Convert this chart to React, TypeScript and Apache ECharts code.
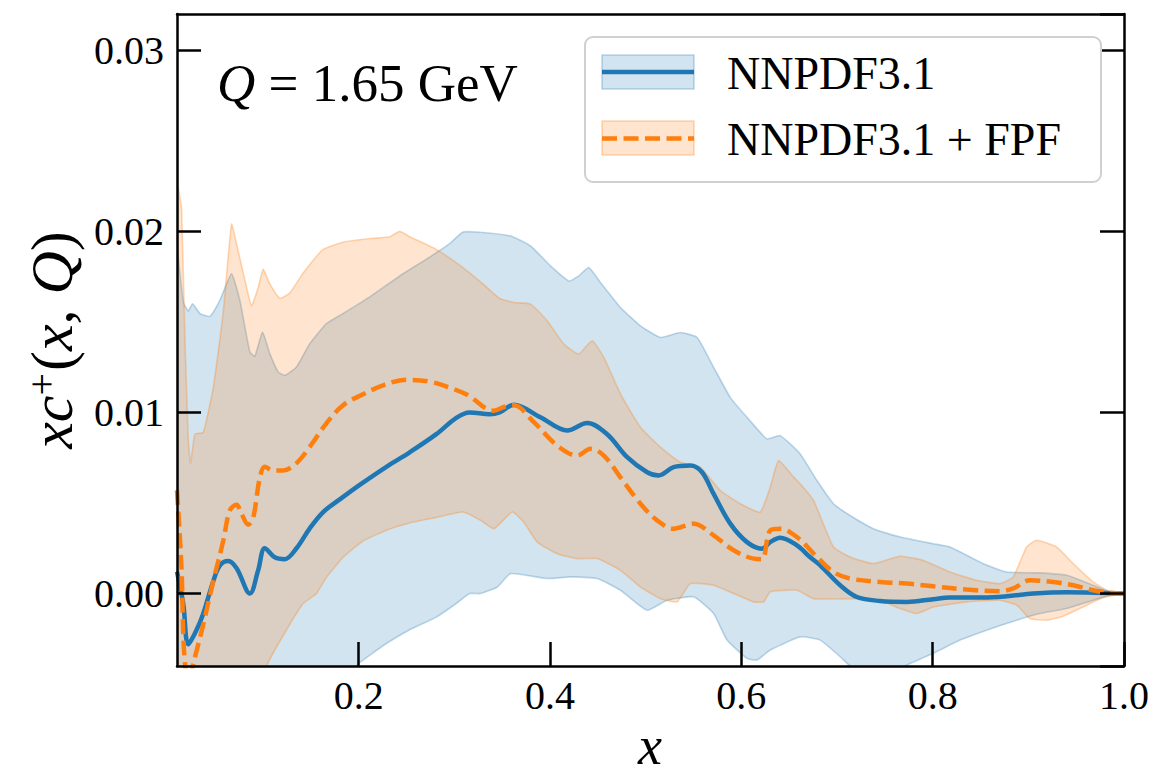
import React, { useEffect, useRef } from "react";
import * as echarts from "echarts";

// ---- axis ranges & ticks ----
const X_MIN = 0.01;
const X_MAX = 1.0;
const Y_MIN = -0.004;
const Y_MAX = 0.032;

// ---- labels ----
const seriesNames = ["NNPDF3.1", "NNPDF3.1 + FPF"];

// ---- NNPDF3.1 central value ----
const nnpdfCentral: [number, number][] = [
  [0.01, 0.0012], [0.0166, -0.0006], [0.0218, -0.0028], [0.0305, -0.002], [0.0375, -0.0011],
  [0.048, 0.0007], [0.0549, 0.00156], [0.0636, 0.0018], [0.0723, 0.0014], [0.0862, 0.0],
  [0.0949, 0.0013], [0.1018, 0.0025], [0.1123, 0.002], [0.1227, 0.0019], [0.1349, 0.0025],
  [0.1488, 0.0036], [0.1628, 0.0045], [0.1802, 0.0052], [0.201, 0.006], [0.2289, 0.007],
  [0.2533, 0.0078], [0.2811, 0.0088], [0.302, 0.0097], [0.3159, 0.01], [0.3368, 0.0099],
  [0.3472, 0.01], [0.3622, 0.01043], [0.39, 0.00973], [0.418, 0.009], [0.4388, 0.00942],
  [0.4597, 0.0088], [0.4806, 0.00753], [0.5015, 0.0067], [0.5136, 0.00652], [0.5292, 0.00698],
  [0.5467, 0.00707], [0.5589, 0.0067], [0.571, 0.0055], [0.5884, 0.00386], [0.6059, 0.00284],
  [0.6215, 0.00248], [0.6302, 0.00284], [0.6406, 0.00308], [0.6581, 0.00266], [0.672, 0.002],
  [0.6824, 0.00156], [0.7033, 0.00046], [0.7207, -0.00019], [0.745, -0.00041], [0.7729, -0.00046],
  [0.8007, -0.00031], [0.8181, -0.00022], [0.8529, -0.00022], [0.8773, -0.00015], [0.9051, 0.0],
  [0.94, 0.00007], [0.9678, 0.00005], [1.0, 0.0],
];

// ---- NNPDF3.1 + FPF central value ----
const fpfCentral: [number, number][] = [
  [0.01, 0.0057], [0.0148, 0.0013], [0.0173, -0.0031], [0.022, -0.0048], [0.0288, -0.0035],
  [0.0375, -0.0017], [0.048, 0.0007], [0.0583, 0.0029], [0.0653, 0.0046], [0.0723, 0.0049],
  [0.0775, 0.0044], [0.0844, 0.0038], [0.0897, 0.0042], [0.0966, 0.0064], [0.1018, 0.007],
  [0.1105, 0.0068], [0.121, 0.0068], [0.1349, 0.0072], [0.1488, 0.0081], [0.1662, 0.0094],
  [0.1836, 0.0104], [0.2045, 0.011], [0.2254, 0.0115], [0.2498, 0.0118], [0.2741, 0.0117],
  [0.2985, 0.0113], [0.3159, 0.0109], [0.3333, 0.0102], [0.3413, 0.0101], [0.3517, 0.0103],
  [0.3622, 0.0104], [0.3831, 0.00946], [0.4075, 0.00817], [0.4284, 0.00762], [0.4423, 0.00799],
  [0.4562, 0.00762], [0.4736, 0.00642], [0.4945, 0.00496], [0.5119, 0.00404], [0.5292, 0.00358],
  [0.5501, 0.00386], [0.571, 0.00321], [0.5919, 0.00239], [0.6128, 0.00193], [0.6215, 0.0019],
  [0.6302, 0.00349], [0.6406, 0.00358], [0.6581, 0.00312], [0.679, 0.00202], [0.6963, 0.00119],
  [0.7137, 0.00083], [0.745, 0.00064], [0.7729, 0.00055], [0.8007, 0.0004], [0.8356, 0.00022],
  [0.8703, 0.00013], [0.8842, 0.00028], [0.9017, 0.00073], [0.926, 0.00064], [0.9469, 0.00046],
  [0.9678, 0.00018], [0.9852, 0.00004], [1.0, 0.0],
];

// ---- NNPDF3.1 uncertainty band ----
const nnpdfUpper: [number, number][] = [
  [0.01, 0.019], [0.0166, 0.0161], [0.0218, 0.0156], [0.0263, 0.016], [0.034, 0.01546],
  [0.0444, 0.0153], [0.0549, 0.0162], [0.067, 0.01766], [0.0757, 0.0162], [0.0862, 0.01334],
  [0.0914, 0.0131], [0.0994, 0.01444], [0.107, 0.01325], [0.1158, 0.01224], [0.1227, 0.01205],
  [0.1349, 0.01251], [0.1488, 0.0138], [0.1662, 0.0149], [0.1836, 0.01546], [0.2115, 0.01638],
  [0.2463, 0.01766], [0.2741, 0.01858], [0.295, 0.01932], [0.3089, 0.01996], [0.3229, 0.01996],
  [0.3587, 0.01974], [0.3796, 0.01919], [0.4005, 0.01809], [0.4196, 0.01726], [0.43, 0.01754],
  [0.4405, 0.018], [0.4527, 0.01717], [0.4736, 0.01579], [0.4945, 0.01478], [0.5154, 0.01414],
  [0.5362, 0.01441], [0.5537, 0.01414], [0.571, 0.01249], [0.5884, 0.01083], [0.6059, 0.00973],
  [0.6267, 0.00854], [0.6406, 0.00872], [0.6615, 0.00771], [0.679, 0.00624], [0.6963, 0.00496],
  [0.7137, 0.00431], [0.738, 0.00358], [0.7659, 0.00312], [0.8007, 0.00275], [0.8181, 0.00257],
  [0.8529, 0.00165], [0.8773, 0.00119], [0.9121, 0.00114], [0.94, 0.00101], [0.9678, 0.00046],
  [0.9852, 0.00009], [1.0, 0.0],
];
const nnpdfLower: [number, number][] = [
  [0.01, -0.014], [0.05, -0.012], [0.1, -0.009], [0.15, -0.0062], [0.19, -0.0045],
  [0.2, -0.00386], [0.2289, -0.00276], [0.2533, -0.002], [0.2811, -0.0013], [0.302, -0.00055],
  [0.3159, 0.0], [0.3274, 0.0], [0.3449, 0.00036], [0.3587, 0.0011], [0.397, 0.00083],
  [0.4214, 0.00092], [0.4493, 0.00083], [0.4736, 0.00018], [0.5015, -0.00092], [0.5223, -0.00037],
  [0.5501, -0.00018], [0.571, -0.0011], [0.585, -0.00257], [0.6059, -0.00358], [0.6163, -0.00367],
  [0.6302, -0.00312], [0.6615, -0.00239], [0.6824, -0.00257], [0.7033, -0.00349], [0.7137, -0.004],
  [0.745, -0.0046], [0.7763, -0.00386], [0.8007, -0.0033], [0.8286, -0.00257], [0.8564, -0.00202],
  [0.8878, -0.00147], [0.9121, -0.0011], [0.94, -0.00083], [0.9678, -0.00037], [0.9852, -0.0001],
  [1.0, 0.0],
];

// ---- NNPDF3.1 + FPF uncertainty band ----
const fpfUpper: [number, number][] = [
  [0.01, 0.0226], [0.0113, 0.0224], [0.0148, 0.0212], [0.0183, 0.014], [0.0218, 0.0085],
  [0.0242, 0.0072], [0.0288, 0.0088], [0.0375, 0.0089], [0.048, 0.0114], [0.0583, 0.0155],
  [0.067, 0.0204], [0.0723, 0.0193], [0.081, 0.0173], [0.0879, 0.0159], [0.0949, 0.0169],
  [0.1001, 0.0179], [0.107, 0.0171], [0.1175, 0.0163], [0.128, 0.0166], [0.1419, 0.0177],
  [0.1628, 0.019], [0.1836, 0.0194], [0.2115, 0.0196], [0.2324, 0.0197], [0.2428, 0.02],
  [0.2533, 0.0197], [0.2811, 0.019], [0.3089, 0.018], [0.3298, 0.0171], [0.3472, 0.0163],
  [0.3622, 0.01607], [0.3796, 0.01598], [0.397, 0.01506], [0.4144, 0.01377], [0.43, 0.01322],
  [0.444, 0.01396], [0.4562, 0.01304], [0.4736, 0.01102], [0.4945, 0.00918], [0.5154, 0.00808],
  [0.5362, 0.00725], [0.5571, 0.00698], [0.578, 0.00569], [0.5989, 0.00496], [0.6197, 0.0045],
  [0.6302, 0.00587], [0.6389, 0.00734], [0.6545, 0.00643], [0.6615, 0.00606], [0.6754, 0.00514],
  [0.6963, 0.00257], [0.7137, 0.00202], [0.738, 0.00165], [0.7659, 0.00206], [0.7903, 0.00183],
  [0.8181, 0.00119], [0.846, 0.00073], [0.8703, 0.00055], [0.8842, 0.00092], [0.8982, 0.00257],
  [0.9086, 0.00294], [0.9295, 0.00257], [0.9469, 0.00165], [0.9678, 0.00064], [0.9852, 0.0001],
  [1.0, 0.0],
];
const fpfLower: [number, number][] = [
  [0.01, -0.018], [0.05, -0.014], [0.09, -0.0065], [0.1036, -0.004], [0.1245, -0.002],
  [0.1419, -0.00055], [0.1558, 0.0], [0.1662, 0.0009], [0.1836, 0.002], [0.2045, 0.0029],
  [0.2289, 0.0035], [0.2533, 0.0039], [0.2811, 0.0042], [0.3089, 0.0045], [0.3274, 0.00404],
  [0.3413, 0.00358], [0.3605, 0.0045], [0.3726, 0.00394], [0.3866, 0.00284], [0.4075, 0.0022],
  [0.4284, 0.00193], [0.4493, 0.00193], [0.4736, 0.00128], [0.4945, 0.00036], [0.5154, -0.00028],
  [0.5328, -0.00046], [0.5467, 0.00055], [0.571, 0.00046], [0.5919, 0.0], [0.6128, -0.00046],
  [0.6232, -0.00046], [0.6302, 0.0001], [0.6581, 0.00018], [0.6754, -0.00028], [0.6963, -0.0003],
  [0.7172, -0.00028], [0.745, -0.00037], [0.7659, -0.00083], [0.7833, -0.0011], [0.8007, -0.00074],
  [0.8356, -0.00046], [0.8703, -0.00037], [0.8878, -0.00064], [0.9017, -0.00138], [0.919, -0.00147],
  [0.9364, -0.00125], [0.9573, -0.00074], [0.9782, -0.00022], [1.0, 0.0],
];

const BLUE = "#1f77b4";
const ORANGE = "#ff7f0e";
const BLUE_FILL = "rgba(31,119,180,0.2)";
const BLUE_EDGE = "rgba(31,119,180,0.28)";
const ORANGE_FILL = "rgba(255,127,14,0.2)";
const ORANGE_EDGE = "rgba(255,127,14,0.3)";
const FONT = "'Liberation Serif', 'Times New Roman', serif";

function bandSeries(upper: [number, number][], lower: [number, number][], fill: string, edge: string, z: number) {
  const poly = upper.concat(lower.slice().reverse());
  return {
    type: "custom",
    xAxisIndex: 0,
    yAxisIndex: 0,
    clip: true,
    z,
    silent: true,
    data: poly,
    encode: { x: 0, y: 1 },
    renderItem: (params: any, api: any) => {
      if (params.dataIndex !== 0) return null;
      const points = poly.map((p) => api.coord(p));
      return {
        type: "polygon",
        shape: { points, smooth: 0.15 },
        style: { fill, stroke: edge, lineWidth: 1.6 },
      };
    },
  };
}

export default function App() {
  const ref = useRef<HTMLDivElement>(null);
  useEffect(() => {
    document.body.style.margin = "0";
    if (!ref.current) return;
    const chart = echarts.init(ref.current, undefined, { renderer: "svg" });
    const axisLine = { show: true, onZero: false, lineStyle: { color: "#000", width: 2.5 } };
    const tick = { show: true, inside: true, length: 24, lineStyle: { color: "#000", width: 2.5 } };
    const option: any = {
      animation: false,
      backgroundColor: "#fff",
      grid: { left: 177, right: 50, top: 14, bottom: 111 },
      xAxis: [
        {
          type: "value",
          min: X_MIN,
          max: X_MAX,
          position: "bottom",
          z: 10,
          axisLine,
          axisTick: tick,
          splitLine: { show: false },
          axisLabel: {
            showMinLabel: false,
            color: "#000",
            fontFamily: FONT,
            fontSize: 40,
            margin: 9,
            formatter: (v: number) => v.toFixed(1),
          },
        },
        {
          type: "value",
          min: X_MIN,
          max: X_MAX,
          position: "top",
          z: 10,
          axisLine,
          axisTick: { show: false },
          axisLabel: { show: false },
          splitLine: { show: false },
        },
      ],
      yAxis: [
        {
          type: "value",
          min: Y_MIN,
          max: Y_MAX,
          position: "left",
          z: 10,
          axisLine,
          axisTick: tick,
          splitLine: { show: false },
          axisLabel: {
            showMinLabel: false,
            showMaxLabel: false,
            color: "#000",
            fontFamily: FONT,
            fontSize: 40,
            margin: 13,
            formatter: (v: number) => v.toFixed(2),
          },
        },
        {
          type: "value",
          min: Y_MIN,
          max: Y_MAX,
          position: "right",
          z: 10,
          axisLine,
          axisTick: tick,
          axisLabel: { show: false },
          splitLine: { show: false },
        },
      ],
      series: [
        bandSeries(nnpdfUpper, nnpdfLower, BLUE_FILL, BLUE_EDGE, 1),
        bandSeries(fpfUpper, fpfLower, ORANGE_FILL, ORANGE_EDGE, 2),
        {
          name: seriesNames[0],
          type: "line",
          data: nnpdfCentral,
          showSymbol: false,
          smooth: 0.35,
          clip: true,
          z: 3,
          lineStyle: { color: BLUE, width: 4.5 },
        },
        {
          name: seriesNames[1],
          type: "line",
          data: fpfCentral,
          showSymbol: false,
          smooth: 0.35,
          clip: true,
          z: 4,
          lineStyle: { color: ORANGE, width: 4.5, type: [15, 6.5] },
        },
      ],
      graphic: [
        {
          type: "text",
          x: 217,
          y: 83,
          style: {
            text: "{q|Q}{n| = 1.65 GeV}",
            verticalAlign: "middle",
            rich: {
              q: { fontFamily: FONT, fontSize: 53, fontStyle: "italic", fill: "#000" },
              n: { fontFamily: FONT, fontSize: 53, fill: "#000" },
            },
          },
        },
        {
          type: "rect",
          shape: { x: 585, y: 37, width: 516, height: 145, r: 8 },
          style: { fill: "rgba(255,255,255,0.8)", stroke: "#d0d0d0", lineWidth: 2 },
          z: 100,
        },
        {
          type: "rect",
          shape: { x: 602, y: 55, width: 92, height: 34 },
          style: { fill: BLUE_FILL, stroke: BLUE_EDGE, lineWidth: 1.6 },
          z: 101,
        },
        {
          type: "line",
          shape: { x1: 602, y1: 72, x2: 694, y2: 72 },
          style: { stroke: BLUE, lineWidth: 4.5 },
          z: 102,
        },
        {
          type: "rect",
          shape: { x: 602, y: 121, width: 92, height: 34 },
          style: { fill: ORANGE_FILL, stroke: ORANGE_EDGE, lineWidth: 1.6 },
          z: 101,
        },
        {
          type: "line",
          shape: { x1: 602, y1: 138.5, x2: 694, y2: 138.5 },
          style: { stroke: ORANGE, lineWidth: 4.5, lineDash: [15, 6.5] },
          z: 102,
        },
        {
          type: "text",
          x: 727,
          y: 73,
          z: 102,
          style: { text: seriesNames[0], fontFamily: FONT, fontSize: 46, fill: "#000", verticalAlign: "middle" },
        },
        {
          type: "text",
          x: 727,
          y: 139,
          z: 102,
          style: { text: seriesNames[1], fontFamily: FONT, fontSize: 46, fill: "#000", verticalAlign: "middle" },
        },
        {
          type: "text",
          x: 650,
          y: 746,
          style: {
            text: "x",
            fontFamily: FONT,
            fontSize: 54,
            fontStyle: "italic",
            fill: "#000",
            align: "center",
            verticalAlign: "middle",
          },
        },
        {
          type: "text",
          x: 52,
          y: 340,
          rotation: Math.PI / 2,
          style: {
            text: "{i|xc}{s|+}{n|(}{i|x}{n|, }{i|Q}{n|)}",
            align: "center",
            verticalAlign: "middle",
            rich: {
              i: { fontFamily: FONT, fontSize: 60, fontStyle: "italic", fill: "#000" },
              n: { fontFamily: FONT, fontSize: 60, fill: "#000" },
              s: { fontFamily: FONT, fontSize: 40, fill: "#000", verticalAlign: "top", padding: [0, 2, 22, 0] },
            },
          },
        },
      ],
    };
    chart.setOption(option);
    return () => chart.dispose();
  }, []);
  return <div ref={ref} style={{ width: 1174, height: 777 }} />;
}
